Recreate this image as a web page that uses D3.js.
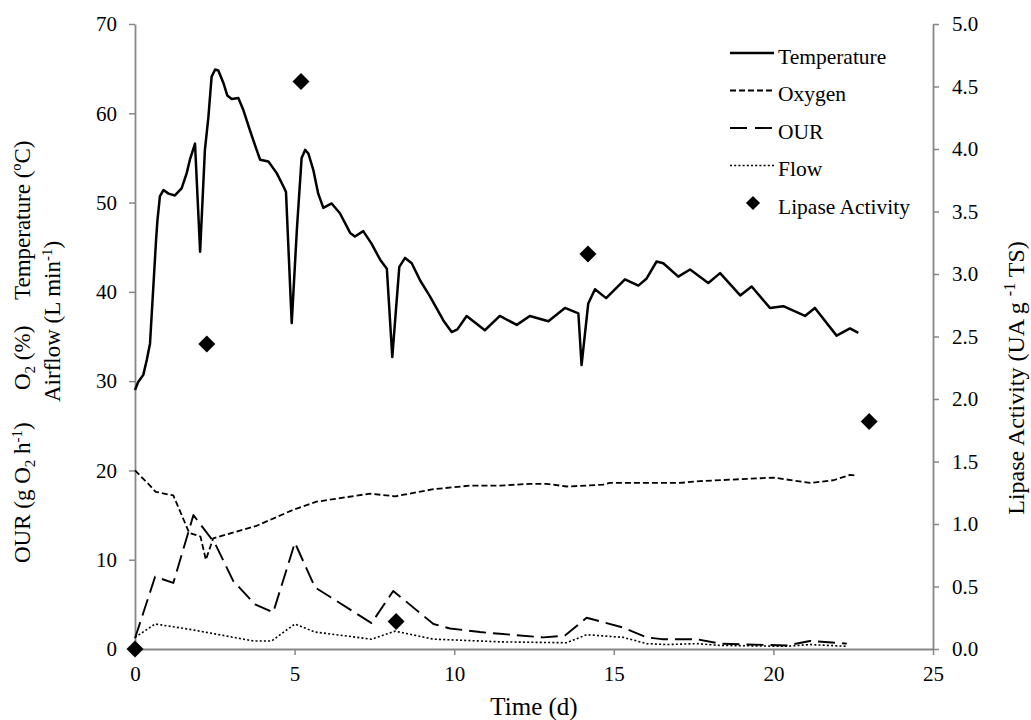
<!DOCTYPE html>
<html>
<head>
<meta charset="utf-8">
<script src="https://cdn.jsdelivr.net/npm/d3@7"></script>
<style>
  body { margin: 0; background: #fff; }
  svg { display: block; }
  text { font-family: "Liberation Serif", "Times New Roman", serif; fill: #000; }
</style>
</head>
<body>
<svg id="chart" width="1031" height="720"></svg>
<script>
// temperature (ºC)
var tempDays = [0, 0.1, 0.26, 0.37, 0.47, 0.66, 0.70, 0.78, 0.89, 1.05, 1.25, 1.46, 1.62, 1.72, 1.88, 2.04, 2.19, 2.30, 2.40, 2.51, 2.61, 2.77, 2.89, 3.03, 3.24, 3.39, 3.60, 3.81, 3.92, 4.18, 4.44, 4.65, 4.73, 4.91, 5.07, 5.22, 5.33, 5.43, 5.59, 5.74, 5.90, 6.16, 6.42, 6.74, 6.89, 7.15, 7.41, 7.68, 7.89, 8.06, 8.28, 8.46, 8.67, 8.93, 9.24, 9.66, 9.92, 10.1, 10.39, 10.96, 11.43, 11.96, 12.37, 12.95, 13.47, 13.89, 13.99, 14.20, 14.41, 14.76, 15.35, 15.77, 16.03, 16.34, 16.55, 17.02, 17.39, 17.96, 18.33, 18.96, 19.32, 19.89, 20.31, 20.99, 21.30, 21.98, 22.40, 22.66];
var tempValues = [29.0, 29.9, 30.7, 32.4, 34.2, 45.8, 47.9, 50.7, 51.4, 51.0, 50.8, 51.6, 53.3, 54.8, 56.6, 44.5, 55.9, 59.6, 64.1, 64.9, 64.8, 63.4, 62.0, 61.6, 61.7, 60.4, 58.1, 55.9, 54.8, 54.6, 53.3, 51.8, 51.2, 36.5, 46.9, 55.0, 55.9, 55.5, 53.6, 51.0, 49.4, 49.9, 48.8, 46.6, 46.2, 46.8, 45.4, 43.6, 42.6, 32.7, 42.8, 43.8, 43.2, 41.3, 39.5, 36.8, 35.5, 35.8, 37.3, 35.7, 37.3, 36.3, 37.3, 36.7, 38.2, 37.6, 31.8, 38.7, 40.3, 39.3, 41.4, 40.7, 41.5, 43.4, 43.2, 41.7, 42.5, 41.0, 42.1, 39.6, 40.6, 38.2, 38.4, 37.3, 38.2, 35.1, 35.9, 35.4];

// oxygen (%)
var oxyDays = [0, 0.47, 0.65, 1.20, 1.70, 2.05, 2.22, 2.45, 3.81, 4.96, 5.69, 7.36, 8.15, 9.35, 10.5, 11.43, 12.37, 12.9, 13.52, 14.67, 14.88, 17.07, 17.70, 20.0, 21.15, 21.88, 22.40, 22.61];
var oxyValues = [20.0, 18.3, 17.6, 17.2, 13.0, 12.6, 10.0, 12.4, 13.8, 15.6, 16.5, 17.4, 17.1, 17.9, 18.3, 18.3, 18.5, 18.5, 18.2, 18.4, 18.6, 18.6, 18.8, 19.2, 18.6, 18.9, 19.5, 19.4];

// OUR (g O2 h-1)
var ourDays = [0, 0.63, 1.20, 1.83, 2.51, 3.08, 3.76, 4.33, 5.01, 5.64, 7.41, 8.09, 9.35, 9.87, 10.81, 11.43, 12.79, 13.47, 14.15, 15.30, 16.03, 16.50, 17.60, 18.33, 19.16, 20.41, 21.15, 22.30];
var ourValues = [1.2, 8.1, 7.4, 15.0, 11.8, 7.6, 5.0, 4.1, 11.9, 6.9, 2.9, 6.5, 2.8, 2.3, 1.9, 1.7, 1.3, 1.5, 3.5, 2.4, 1.3, 1.1, 1.1, 0.6, 0.5, 0.4, 0.9, 0.6];

// airflow (L min-1)
var flowDays = [0, 0.63, 1.72, 3.71, 4.28, 5.01, 5.64, 7.41, 8.15, 9.35, 10.81, 11.43, 13.52, 14.15, 15.30, 16.03, 16.66, 17.60, 18.33, 20.41, 21.15, 22.30];
var flowValues = [1.3, 2.8, 2.2, 0.9, 0.9, 2.8, 1.9, 1.1, 2.0, 1.1, 0.9, 0.8, 0.7, 1.6, 1.3, 0.6, 0.5, 0.6, 0.4, 0.3, 0.5, 0.3];

// lipase activity (UA g-1 TS), right axis
var lipaseDays = [0, 2.25, 5.2, 8.18, 14.19, 23.0];
var lipaseValues = [0.0, 2.44, 4.54, 0.22, 3.16, 1.82];

var xTicks = [0, 5, 10, 15, 20, 25];
var leftTicks = [0, 10, 20, 30, 40, 50, 60, 70];
var rightTicks = [0, 0.5, 1, 1.5, 2, 2.5, 3, 3.5, 4, 4.5, 5];
var legendNames = ["Temperature", "Oxygen", "OUR", "Flow", "Lipase Activity"];

var width = 1031;
var height = 720;
var margin = { top: 24, right: 98, bottom: 71, left: 135 };
var axisGrey = "#878787";
var sideSize = 23;

var svg = d3.select("#chart");

var x = d3.scaleLinear().domain([0, 25]).range([margin.left, width - margin.right]);
var yLeft = d3.scaleLinear().domain([0, 70]).range([height - margin.bottom, margin.top]);
var yRight = d3.scaleLinear().domain([0, 5]).range([height - margin.bottom, margin.top]);

function styleAxis(g) {
    g.select(".domain").attr("stroke", axisGrey).attr("stroke-width", 1.8);
    g.selectAll(".tick line").attr("stroke", axisGrey).attr("stroke-width", 1.5);
    g.selectAll(".tick text")
      .attr("font-size", 21)
      .attr("fill", "#000");
}

function drawAxes() {
    svg.append("g")
      .attr("transform", "translate(0," + (height - margin.bottom) + ")")
      .call(d3.axisBottom(x).tickValues(xTicks).tickSize(6).tickPadding(11).tickSizeOuter(0))
      .call(styleAxis);

    svg.append("g")
      .attr("transform", "translate(" + margin.left + ",0)")
      .call(d3.axisLeft(yLeft).tickValues(leftTicks).tickSize(6).tickPadding(12).tickSizeOuter(0))
      .call(styleAxis);

    svg.append("g")
      .attr("transform", "translate(" + (width - margin.right) + ",0)")
      .call(d3.axisRight(yRight).tickValues(rightTicks).tickFormat(d3.format(".1f"))
            .tickSize(6).tickPadding(13).tickSizeOuter(0))
      .call(styleAxis);
}

function seriesLine(days, values, dash, w) {
    var pts = days.map(function(d, i) { return [d, values[i]]; });
    svg.append("path")
      .datum(pts)
      .attr("fill", "none")
      .attr("stroke", "#000")
      .attr("stroke-width", w)
      .attr("stroke-dasharray", dash)
      .attr("stroke-linejoin", "round")
      .attr("d", d3.line().x(d => x(d[0])).y(d => yLeft(d[1])));
}

function diamond(g, cx, cy, side) {
    g.append("path")
      .attr("d", d3.symbol().type(d3.symbolSquare).size(side * side)())
      .attr("transform", "translate(" + cx + "," + cy + ") rotate(45)")
      .attr("fill", "#000");
}

function drawSeries() {
    seriesLine(flowDays, flowValues, "2,2.2", 1.6);
    seriesLine(ourDays, ourValues, "17,7", 1.9);
    seriesLine(oxyDays, oxyValues, "6,3", 1.8);
    seriesLine(tempDays, tempValues, null, 2.5);

    var marks = svg.append("g");
    lipaseDays.forEach(function(d, i) {
        diamond(marks, x(d), yRight(lipaseValues[i]), 12);
    });
}

function drawLegend() {
    var lg = svg.append("g");
    var dashes = [null, "6,3", "17,8", "2,2.2"];
    var widths = [2.5, 1.8, 1.9, 1.6];
    legendNames.forEach(function(name, i) {
        var cy = 53 + i * 37.5;
        if (i < 4) {
            lg.append("line")
              .attr("x1", 730).attr("x2", 774)
              .attr("y1", cy).attr("y2", cy)
              .attr("stroke", "#000")
              .attr("stroke-width", widths[i])
              .attr("stroke-dasharray", dashes[i]);
        } else {
            diamond(lg, 753, cy, 10);
        }
        lg.append("text")
          .attr("x", 778)
          .attr("y", cy + 10.5)
          .attr("font-size", 21.5)
          .text(name);
    });
}

function drawTitles() {
    svg.append("text")
      .attr("x", x(12.5))
      .attr("y", 715)
      .attr("text-anchor", "middle")
      .attr("font-size", 25)
      .text("Time (d)");

    // left axis: three labels on one line, airflow beneath
    var t1 = svg.append("text")
      .attr("transform", "translate(30,563) rotate(-90)")
      .attr("font-size", sideSize);
    t1.append("tspan").text("OUR (g O");
    t1.append("tspan").attr("font-size", 15).attr("dy", 5).text("2");
    t1.append("tspan").attr("dy", -5).text(" h");
    t1.append("tspan").attr("font-size", 15).attr("dy", -8).text("-1");
    t1.append("tspan").attr("dy", 8).text(")");

    var t2 = svg.append("text")
      .attr("transform", "translate(30,390) rotate(-90)")
      .attr("font-size", sideSize);
    t2.append("tspan").text("O");
    t2.append("tspan").attr("font-size", 15).attr("dy", 5).text("2");
    t2.append("tspan").attr("dy", -5).text(" (%)");

    svg.append("text")
      .attr("transform", "translate(30,300) rotate(-90)")
      .attr("font-size", sideSize)
      .text("Temperature (ºC)");

    var t4 = svg.append("text")
      .attr("transform", "translate(60,402) rotate(-90)")
      .attr("font-size", sideSize);
    t4.append("tspan").text("Airflow (L min");
    t4.append("tspan").attr("font-size", 15).attr("dy", -8).text("-1");
    t4.append("tspan").attr("dy", 8).text(")");

    var t5 = svg.append("text")
      .attr("transform", "translate(1024,378) rotate(-90)")
      .attr("text-anchor", "middle")
      .attr("font-size", 24);
    t5.append("tspan").text("Lipase Activity (UA g ");
    t5.append("tspan").attr("font-size", 16).attr("dy", -9).text("-1");
    t5.append("tspan").attr("dy", 9).text(" TS)");
}

drawAxes();
drawSeries();
drawLegend();
drawTitles();
</script>
</body>
</html>
